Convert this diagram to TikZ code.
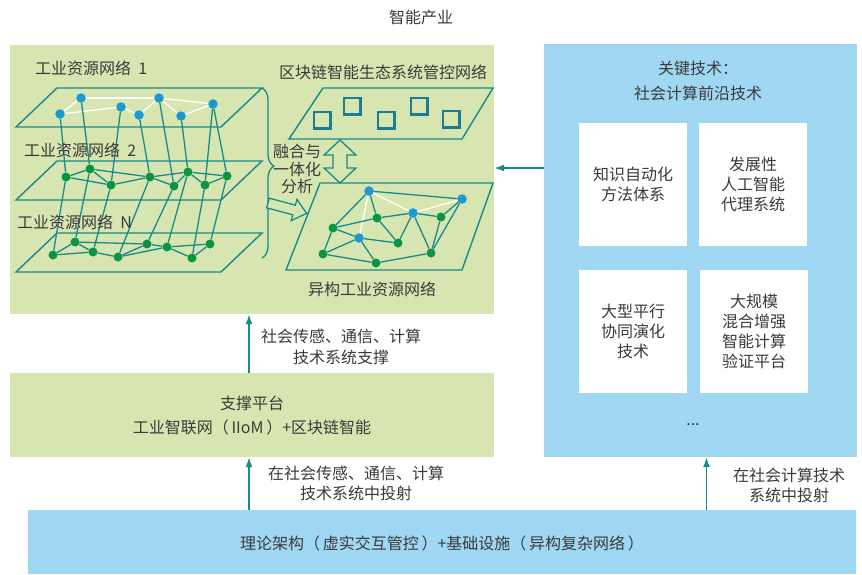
\documentclass[tikz,border=0pt]{standalone}
\usepackage{fontspec}
\setmainfont{Noto Sans CJK SC}
\usetikzlibrary{arrows.meta,decorations.pathreplacing}

\definecolor{bggreen}{HTML}{D7E6B1}
\definecolor{bgblue}{HTML}{A0D8F4}
\definecolor{lineteal}{HTML}{178A8A}
\definecolor{dotblue}{HTML}{1A9AD0}
\definecolor{dotgreen}{HTML}{0B9443}
\definecolor{squareblue}{HTML}{1F7B94}
\definecolor{txtgray}{HTML}{3A3A3A}

\def\planeone{(16,127) -- (221,127) -- (262,88) -- (57,88) -- cycle}
\def\planetwo{(16,200) -- (221,200) -- (262,161) -- (57,161) -- cycle}
\def\planen{(16,272) -- (221,272) -- (262,233) -- (57,233) -- cycle}
\def\planechain{(289,139) -- (462,139) -- (493,88) -- (323,88) -- cycle}
\def\planehetero{(286,270) -- (462,270) -- (493,183) -- (320,183) -- cycle}

\begin{document}
\begin{tikzpicture}[x=1pt, y=-1pt,
    txt/.style={text=txtgray, font=\fontsize{16}{20}\selectfont, inner sep=0pt, align=center},
    bdot/.style={circle, fill=dotblue, inner sep=0pt, minimum size=9.5pt},
    gdot/.style={circle, fill=dotgreen, inner sep=0pt, minimum size=9pt},
    link/.style={lineteal, line width=1.3pt},
    wlink/.style={white, line width=1.3pt},
    plane/.style={lineteal, line width=1.4pt},
    techbox/.style={fill=white, minimum width=108pt, minimum height=123pt, inner sep=0pt},
    flow/.style={lineteal, line width=1.5pt, -{Latex[length=10pt,width=7pt]}}]

    \useasboundingbox (0,0) rectangle (862,574);

    % panels
    \node[fill=bggreen, minimum width=484pt, minimum height=269pt, inner sep=0pt] (industry) at (252,179.5) {};
    \node[fill=bgblue, minimum width=313pt, minimum height=413pt, inner sep=0pt] (tech) at (700.5,250.5) {};
    \node[fill=bggreen, minimum width=484pt, minimum height=84pt, inner sep=0pt] (support) at (252,415) {};
    \node[fill=bgblue, minimum width=828pt, minimum height=64pt, inner sep=0pt] (infra) at (442,542) {};

    \node[txt] (title) at (421,17) {智能产业};

    % industrial resource networks (left)
    \draw[plane] \planeone;
    \draw[plane] \planetwo;
    \draw[plane] \planen;

    \foreach \n/\p in {b1/{60,114}, b2/{81,98}, b3/{121,107}, b4/{139,115}, b5/{159,98}, b6/{181,116}, b7/{213,104}}
        \node[bdot] (\n) at (\p) {};
    \foreach \n/\p in {s1/{66,177}, s2/{90,169}, s3/{111,185}, s4/{150,177}, s5/{174,186}, s6/{188,172}, s7/{205,185}, s8/{227,176}}
        \node[gdot] (\n) at (\p) {};
    \foreach \n/\p in {n1/{53,255}, n2/{75,242}, n3/{93,252}, n4/{118,257}, n5/{147,244}, n6/{167,247}, n7/{192,258}, n8/{210,244}}
        \node[gdot] (\n) at (\p) {};

    \foreach \a/\b in {b1/b2, b2/b5, b1/b3, b3/b4, b4/b5, b5/b6, b5/b7, b6/b7}
        \draw[wlink] (\a) -- (\b);
    \foreach \a/\b in {s1/s2, s1/s3, s2/s3, s2/s4, s3/s4, s4/s5, s4/s6, s5/s6, s6/s7, s6/s8, s7/s8,
                       n1/n2, n1/n3, n2/n3, n2/n5, n3/n4, n4/n5, n4/n6, n5/n6, n6/n7, n6/n8, n7/n8}
        \draw[link] (\a) -- (\b);
    % across layers
    \foreach \a/\b in {b1/s1, b2/s2, b3/s3, b4/s4, b5/s5, b6/s6, b7/s7, b7/s8,
                       s1/n1, s2/n2, s3/n3, s4/n4, s5/n5, s6/n6, s7/n7, s8/n8}
        \draw[link] (\a) -- (\b);

    \node[txt, anchor=west] (net1) at (35,68) {工业资源网络\ \ 1};
    \node[txt, anchor=west] (net2) at (24,150) {工业资源网络\ \ 2};
    \node[txt, anchor=west] (netn) at (17,222) {工业资源网络\ \ N};

    \draw[lineteal, line width=1.3pt, decorate, decoration={brace, amplitude=12pt, aspect=0.46}] (262,88) -- (262,258);

    % blockchain control network
    \draw[plane] \planechain;
    \foreach \n/\p in {q1/{322,120}, q2/{352,106}, q3/{386,120}, q4/{419,106}, q5/{451,119}}
        \node[draw=squareblue, line width=2.5pt, minimum size=16.5pt, inner sep=0pt] (\n) at (\p) {};
    \node[txt] (chainlbl) at (383,72) {区块链智能生态系统管控网络};

    % fusion arrows
    \draw[lineteal, line width=1.3pt, fill=bggreen] (340,140) -- (356,155) -- (347,155) -- (347,168) -- (356,168)
        -- (340,183) -- (324,168) -- (333,168) -- (333,155) -- (324,155) -- cycle;
    \begin{scope}[shift={(268,203)}, rotate=-15]
        \draw[lineteal, line width=1.3pt, fill=bggreen] (0,-5) -- (27,-5) -- (27,-11) -- (40,0) -- (27,11) -- (27,5) -- (0,5) -- cycle;
    \end{scope}
    \node[txt, font=\fontsize{16}{17.5}\selectfont] (fusion) at (297,169) {融合与\\一体化\\分析};

    % heterogeneous network
    \draw[plane] \planehetero;
    \foreach \n/\p in {h1/{369,191}, h2/{462,199}, h3/{413,213}, h4/{359,238}}
        \node[bdot] (\n) at (\p) {};
    \foreach \n/\p in {k1/{377,218}, k2/{441,217}, k3/{333,228}, k4/{398,243}, k5/{323,254}, k6/{376,263}, k7/{431,253}}
        \node[gdot] (\n) at (\p) {};
    \foreach \a/\b in {h1/h4, h1/h3, h3/h2}
        \draw[wlink] (\a) -- (\b);
    \foreach \a/\b in {h1/h2, h1/k3, h1/k1, k3/k1, k1/h3, k3/h4, k3/k5, k5/h4, k5/k6, h4/k6, h4/k4,
                       k1/k4, k4/h3, k6/k7, h3/k2, h3/k7, k2/k7, h2/k2, h2/k7}
        \draw[link] (\a) -- (\b);
    \node[txt] (heterolbl) at (372,289) {异构工业资源网络};

    % key technologies
    \node[txt, font=\fontsize{16}{25}\selectfont] (techtitle) at (698,80.5) {关键技术：\\社会计算前沿技术};
    \node[techbox] (tk1) at (633,184.5) {};
    \node[techbox] (tk2) at (753,184.5) {};
    \node[techbox] (tk3) at (633,331.5) {};
    \node[techbox] (tk4) at (754,331.5) {};
    \node[txt] at (tk1) {知识自动化\\方法体系};
    \node[txt] at (tk2) {发展性\\人工智能\\代理系统};
    \node[txt] at (tk3) {大型平行\\协同演化\\技术};
    \node[txt] at (tk4) {大规模\\混合增强\\智能计算\\验证平台};
    \node[txt] (more) at (693,425) {...};

    % support platform and base
    \node[txt] (supporttitle) at (252,403) {支撑平台};
    \node[txt] (supportsub) at (252,427) {工业智联网（\,IIoM\,）+区块链智能};
    \node[txt] (infratxt) at (442,543) {理论架构（\,虚实交互管控\,）+基础设施（\,异构复杂网络\,）};

    % arrows
    \coordinate (ca) at ([xshift=-3pt]support.north);
    \coordinate (cb) at ([xshift=-3pt]support.south);
    \coordinate (cc) at ([xshift=6pt]tech.south);
    \coordinate (cd) at (tech.west |- 0,168);
    \draw[flow] (ca) -- (industry.south -| ca);
    \draw[flow] (infra.north -| cb) -- (cb);
    \draw[flow] (infra.north -| cc) -- (cc);
    \draw[flow] (cd) -- (industry.east |- cd);

    \node[txt, font=\fontsize{16}{21}\selectfont] (lbla) at (341,346.5) {社会传感、通信、计算\\技术系统支撑};
    \node[txt] (lblb) at (356,483.5) {在社会传感、通信、计算\\技术系统中投射};
    \node[txt] (lblc) at (789,485) {在社会计算技术\\系统中投射};

\end{tikzpicture}
\end{document}
